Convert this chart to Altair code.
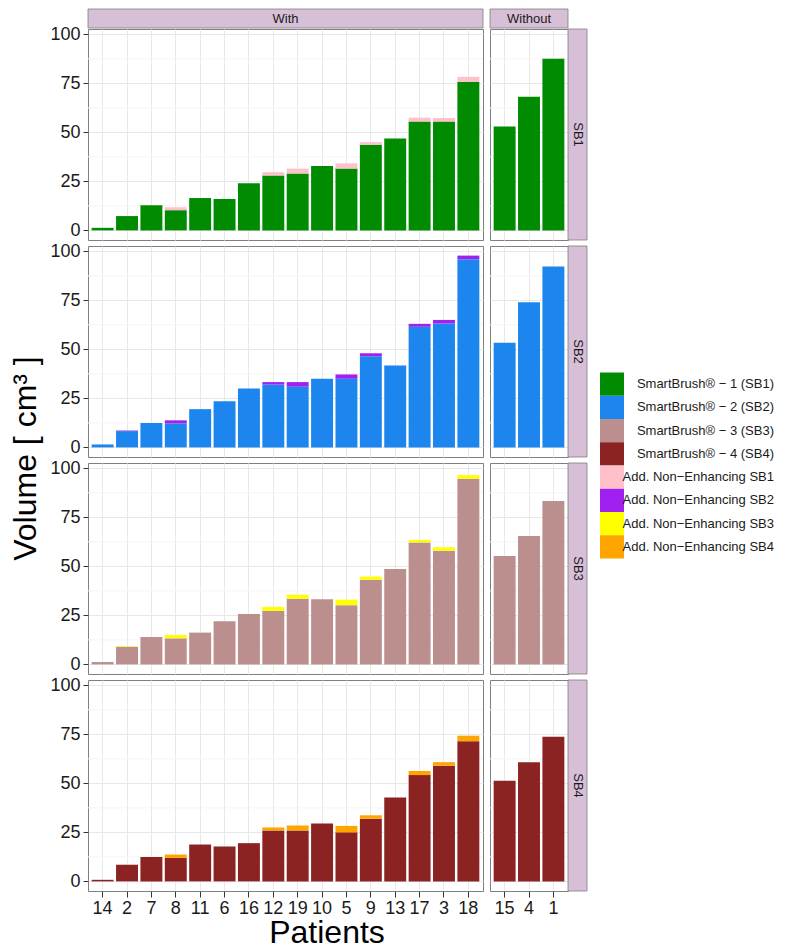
import altair as alt
import pandas as pd

# ---------------- data ----------------
patients_with = ["14", "2", "7", "8", "11", "6", "16", "12", "19", "10", "5", "9", "13", "17", "3", "18"]
patients_without = ["15", "4", "1"]
sb_names = ["SB1", "SB2", "SB3", "SB4"]

sb1_base_with = [1.3, 7.3, 12.8, 10.3, 16.5, 16.0, 24.0, 28.0, 29.0, 32.8, 31.5, 43.7, 46.8, 55.5, 55.5, 75.7]
sb1_add_with = [0, 0, 0, 1.5, 0, 0, 0, 1.7, 2.5, 0, 2.7, 1.3, 0, 2.0, 1.8, 2.6]
sb1_without = [53.0, 68.2, 87.5]

sb2_base_with = [1.5, 8.3, 12.5, 12.2, 19.5, 23.5, 30.0, 32.0, 31.0, 35.0, 35.0, 46.5, 41.8, 61.5, 63.2, 96.0]
sb2_add_with = [0, 0.3, 0, 1.6, 0, 0, 0, 1.3, 2.3, 0, 2.2, 1.5, 0, 1.5, 1.8, 1.8]
sb2_without = [53.3, 74.0, 92.3]

sb3_base_with = [1.2, 9.0, 14.0, 13.3, 16.2, 22.0, 25.7, 27.3, 33.5, 33.2, 30.2, 43.2, 48.7, 62.2, 58.0, 94.7]
sb3_add_with = [0, 0.3, 0, 1.7, 0, 0, 0, 2.0, 2.0, 0, 2.8, 1.6, 0, 1.3, 1.7, 1.8]
sb3_without = [55.3, 65.5, 83.3]

sb4_base_with = [0.8, 8.5, 12.5, 12.0, 18.8, 17.8, 19.5, 26.0, 26.0, 29.5, 25.0, 32.0, 42.8, 54.2, 59.0, 71.5]
sb4_add_with = [0, 0, 0, 1.7, 0, 0, 0, 1.5, 2.5, 0, 3.3, 1.7, 0, 2.1, 1.8, 2.8]
sb4_without = [51.3, 60.8, 73.7]

legend_labels = [
    "SmartBrush® − 1 (SB1)",
    "SmartBrush® − 2 (SB2)",
    "SmartBrush® − 3 (SB3)",
    "SmartBrush® − 4 (SB4)",
    "Add. Non−Enhancing SB1",
    "Add. Non−Enhancing SB2",
    "Add. Non−Enhancing SB3",
    "Add. Non−Enhancing SB4",
]
legend_colors = ["#008B00", "#1C86EE", "#BC8F8F", "#8B2323",
                 "#FFC0CB", "#A020F0", "#FFFF00", "#FFA500"]

y_ticks = [0, 25, 50, 75, 100]
y_minor = [12.5, 37.5, 62.5, 87.5]

base_with = [sb1_base_with, sb2_base_with, sb3_base_with, sb4_base_with]
add_with = [sb1_add_with, sb2_add_with, sb3_add_with, sb4_add_with]
without = [sb1_without, sb2_without, sb3_without, sb4_without]

records = []
for i, sb in enumerate(sb_names):
    for p, b, a in zip(patients_with, base_with[i], add_with[i]):
        records.append(dict(patient=p, group="With", sb=sb, label=legend_labels[i], value=b, order=0))
        if a > 0:
            records.append(dict(patient=p, group="With", sb=sb, label=legend_labels[4 + i], value=a, order=1))
    for p, b in zip(patients_without, without[i]):
        records.append(dict(patient=p, group="Without", sb=sb, label=legend_labels[i], value=b, order=0))
df = pd.DataFrame(records)

# ---------------- layout constants ----------------
W1, W2, H, STRIP = 395, 78, 211, 19
GAP = 5
FONT = "Liberation Sans"
BLOCK_H = 4 * H + 3 * GAP
y_scale = alt.Scale(domain=[-4.9, 102.7], nice=False, zero=False)
color_scale = alt.Scale(domain=legend_labels, range=legend_colors)
STRIP_FILL = "#D8BFD8"
BORDER = "#7F7F7F"


def top_strip(text, W):
    d = pd.DataFrame({"s": [text]})
    r = alt.Chart(d).mark_rect(fill=STRIP_FILL, stroke=BORDER, strokeWidth=0.8).encode(
        x=alt.value(0), x2=alt.value(W), y=alt.value(-STRIP - 1), y2=alt.value(-1))
    t = alt.Chart(d).mark_text(fontSize=13, color="#1A1A1A", baseline="middle", font=FONT).encode(
        x=alt.value(W / 2), y=alt.value(-STRIP / 2 - 1), text="s:N")
    return [r, t]


def right_strip(text, W):
    d = pd.DataFrame({"s": [text]})
    r = alt.Chart(d).mark_rect(fill=STRIP_FILL, stroke=BORDER, strokeWidth=0.8).encode(
        x=alt.value(W), x2=alt.value(W + STRIP), y=alt.value(0), y2=alt.value(H))
    t = alt.Chart(d).mark_text(fontSize=13, color="#1A1A1A", baseline="middle", angle=90, font=FONT).encode(
        x=alt.value(W + STRIP / 2), y=alt.value(H / 2), text="s:N")
    return [r, t]


def panel(i, group):
    sb = sb_names[i]
    pats = patients_with if group == "With" else patients_without
    W = W1 if group == "With" else W2
    bottom = i == 3
    first = group == "With"
    sub = df[(df.sb == sb) & (df.group == group)]

    x_axis = alt.Axis(title=None, labels=bottom, ticks=bottom, domain=False, grid=True,
                      bandPosition=0.5, labelAngle=0, labelFontSize=18, labelOverlap=False,
                      labelPadding=2, tickSize=6, labelColor="#1A1A1A", tickColor="#333333",
                      gridColor="#E8E8E8", labelFont=FONT)
    y_axis = alt.Axis(title=None, values=y_ticks, labels=first, ticks=first, domain=False, grid=True,
                      labelFontSize=18, labelPadding=3, tickSize=5, labelColor="#1A1A1A",
                      tickColor="#333333", gridColor="#E8E8E8", labelFont=FONT)

    minor = alt.Chart(pd.DataFrame({"v": y_minor})).mark_rule(color="#F4F4F4", strokeWidth=1).encode(
        y=alt.Y("v:Q", scale=y_scale, axis=y_axis))
    bars = alt.Chart(sub).mark_bar().encode(
        x=alt.X("patient:N", scale=alt.Scale(domain=pats, paddingInner=0.1, paddingOuter=0.15), axis=x_axis),
        y=alt.Y("value:Q", stack="zero", scale=y_scale, axis=y_axis),
        color=alt.Color("label:N", scale=color_scale, legend=None),
        order=alt.Order("order:Q"),
    )
    layers = [minor, bars]
    if i == 0:
        layers += top_strip(group, W)
    if group == "Without":
        layers += right_strip(sb, W)
    if bottom and group == "With":
        d = pd.DataFrame({"s": ["Patients"]})
        layers.append(alt.Chart(d).mark_text(fontSize=32, color="black", baseline="alphabetic", font=FONT).encode(
            x=alt.value(239), y=alt.value(H + 52), text="s:N"))
    return alt.layer(*layers).properties(width=W, height=H)


rows = [alt.hconcat(panel(i, "With"), panel(i, "Without"), spacing=5) for i in range(4)]
block = alt.vconcat(*rows, spacing=0)

ytitle = alt.Chart(pd.DataFrame({"s": ["Volume [ cm³ ]"]})).mark_text(
    fontSize=32, angle=270, baseline="middle", align="center", color="black", font=FONT).encode(
    x=alt.value(18), y=alt.value(BLOCK_H / 2), text="s:N"
).properties(width=36, height=BLOCK_H, view=alt.ViewBackground(strokeOpacity=0))

leg_df = pd.DataFrame({"label": legend_labels})
leg_center = BLOCK_H / 2 + 7
leg_y = alt.Y("label:N", sort=legend_labels,
              scale=alt.Scale(domain=legend_labels, range=[leg_center - 93, leg_center + 93],
                              paddingInner=0, paddingOuter=0), axis=None)
LEG_W = 174
leg_rect = alt.Chart(leg_df).mark_rect().encode(
    x=alt.value(0), x2=alt.value(24), y=leg_y,
    color=alt.Color("label:N", scale=color_scale, legend=None))
leg_text = alt.Chart(leg_df).mark_text(align="right", baseline="middle", fontSize=13,
                                       color="#1A1A1A", font=FONT).encode(
    x=alt.value(LEG_W), y=leg_y, text="label:N")
legend = alt.layer(leg_rect, leg_text).properties(
    width=LEG_W, height=BLOCK_H, view=alt.ViewBackground(strokeOpacity=0))

chart = alt.hconcat(ytitle, alt.hconcat(block, legend, spacing=12), spacing=5).properties(
    padding={"left": 0, "top": 0, "right": 0, "bottom": 0}
).configure_view(stroke=BORDER, strokeWidth=1).configure_text(font=FONT)

chart.save("out.html", embed_options={"renderer": "svg", "actions": False})
